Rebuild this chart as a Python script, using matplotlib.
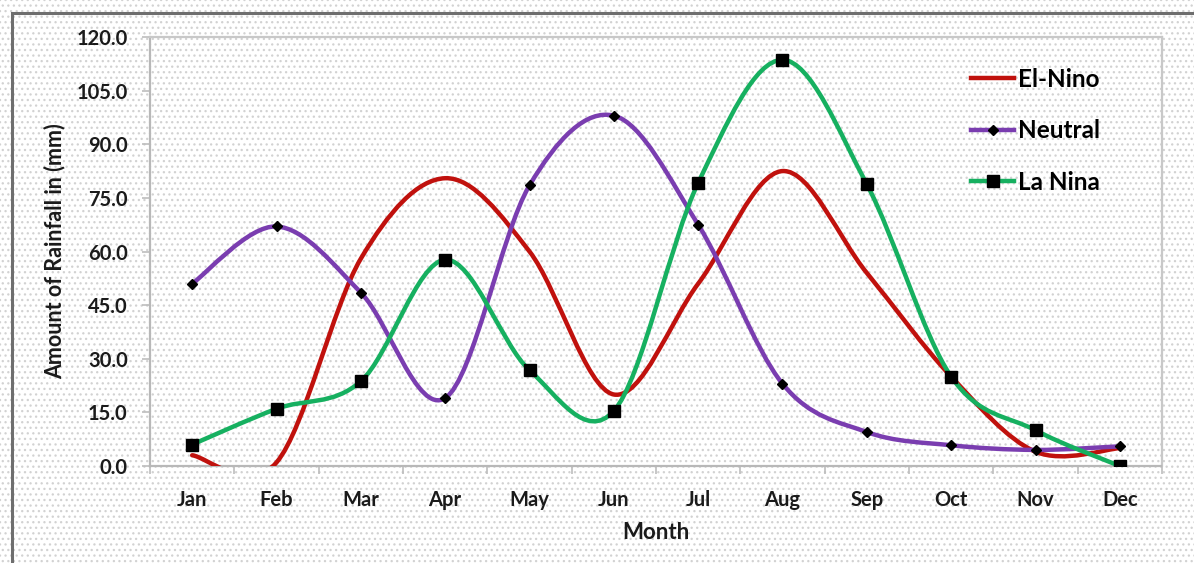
import numpy as np
import matplotlib.pyplot as plt
from matplotlib.path import Path
from matplotlib.patches import PathPatch, Rectangle
from matplotlib.lines import Line2D

months = ["Jan", "Feb", "Mar", "Apr", "May", "Jun", "Jul", "Aug", "Sep", "Oct", "Nov", "Dec"]
el_nino = [3.0, 1.0, 58.0, 80.5, 60.0, 20.0, 51.0, 82.5, 54.0, 25.0, 4.0, 5.0]
neutral = [51.0, 67.0, 48.5, 19.0, 78.5, 98.0, 67.5, 23.0, 9.5, 5.8, 4.5, 5.5]
la_nina = [6.0, 16.0, 23.7, 57.7, 26.8, 15.4, 79.2, 113.6, 78.8, 25.0, 10.0, 0.0]

RED = "#c0110d"
PURPLE = "#7a3db0"
GREEN = "#16b060"

plt.rcParams['font.family'] = ['Lato', 'DejaVu Sans']
plt.rcParams['hatch.linewidth'] = 0.9


def smooth_path(xs, ys):
    # excel-like smoothed line: catmull-rom segments as cubic beziers
    xs = np.asarray(xs, float)
    ys = np.asarray(ys, float)
    n = len(xs)
    verts = [(xs[0], ys[0])]
    codes = [Path.MOVETO]
    for i in range(n - 1):
        i0 = max(i - 1, 0)
        i3 = min(i + 2, n - 1)
        c1 = (xs[i] + (xs[i + 1] - xs[i0]) / 6, ys[i] + (ys[i + 1] - ys[i0]) / 6)
        c2 = (xs[i + 1] - (xs[i3] - xs[i]) / 6, ys[i + 1] - (ys[i3] - ys[i]) / 6)
        verts += [c1, c2, (xs[i + 1], ys[i + 1])]
        codes += [Path.CURVE4] * 3
    return Path(verts, codes)


fig = plt.figure(figsize=(11.94, 5.63), dpi=100)
fig.patch.set_facecolor('white')
# dotted background
fig.patches.append(Rectangle((0, 0), 1, 1, transform=fig.transFigure, facecolor='white',
                             edgecolor='#d2d2d2', linewidth=0, hatch='...', zorder=-10))
# outer chart frame (runs off the right and bottom)
fig.patches.append(Rectangle((12 / 1194, -0.1), 1.2, 1.1 - 13 / 563, transform=fig.transFigure,
                             facecolor='none', edgecolor='#6e6e6e', linewidth=2.2, zorder=-5))

ax = fig.add_axes([150 / 1194, 1 - 466 / 563, (1162 - 150) / 1194, (466 - 37) / 563])
ax.set_facecolor('none')

x = np.arange(len(months))
for vals, col in [(el_nino, RED), (neutral, PURPLE), (la_nina, GREEN)]:
    ax.add_patch(PathPatch(smooth_path(x, vals), facecolor='none', edgecolor=col,
                           linewidth=3.2, capstyle='round', zorder=3))
ax.plot(x, neutral, linestyle='none', marker='D', markersize=5, color='black', zorder=4)
ax.plot(x, la_nina, linestyle='none', marker='s', markersize=9, color='black', zorder=4)

ax.set_xlim(-0.5, 11.5)
ax.set_ylim(0, 120)
ax.set_yticks(np.arange(0, 121, 15))
ax.set_yticklabels([f"{v:.1f}" for v in np.arange(0, 121, 15)], fontsize=14.5, fontweight='bold')
ax.set_xticks(x)
ax.set_xticklabels(months, fontsize=14.5, fontweight='bold')
ax.set_xticks(np.arange(-0.5, 12, 1), minor=True)
ax.tick_params(axis='x', which='major', length=0, pad=17, colors='#1a1a1a')
ax.tick_params(axis='x', which='minor', length=6, color='#bdbdbd', width=1.2)
ax.tick_params(axis='y', length=6, width=1.2, pad=10, colors='#1a1a1a')
ax.tick_params(axis='y', color='#bdbdbd')

for s in ['top', 'right']:
    ax.spines[s].set_color('#c8c8c8')
    ax.spines[s].set_linewidth(1.6)
ax.spines['left'].set_color('#b8b8b8')
ax.spines['left'].set_linewidth(1.6)
ax.spines['bottom'].set_color('#b8b8b8')
ax.spines['bottom'].set_linewidth(1.6)
ax.spines['bottom'].set_linestyle((0, (2, 1)))

ax.set_xlabel("Month", fontsize=16, fontweight='bold', labelpad=9, color='#1a1a1a')
ax.set_ylabel("Amount of Rainfall in (mm)", fontsize=15.5, fontweight='bold', labelpad=8,
              color='#1a1a1a')

handles = [
    Line2D([], [], color=RED, linewidth=3.2),
    Line2D([], [], color=PURPLE, linewidth=3.2, marker='D', markersize=5,
           markerfacecolor='black', markeredgecolor='black'),
    Line2D([], [], color=GREEN, linewidth=3.2, marker='s', markersize=9,
           markerfacecolor='black', markeredgecolor='black'),
]
ax.legend(handles, ["El-Nino", "Neutral", "La Nina"], loc='upper left',
          bbox_to_anchor=(0.811, 0.928), frameon=False, prop={'size': 17.5, 'weight': 'bold'},
          handlelength=1.8, handletextpad=0.15, labelspacing=1.17, borderaxespad=0, borderpad=0)

fig.savefig("out.png", dpi=100)
